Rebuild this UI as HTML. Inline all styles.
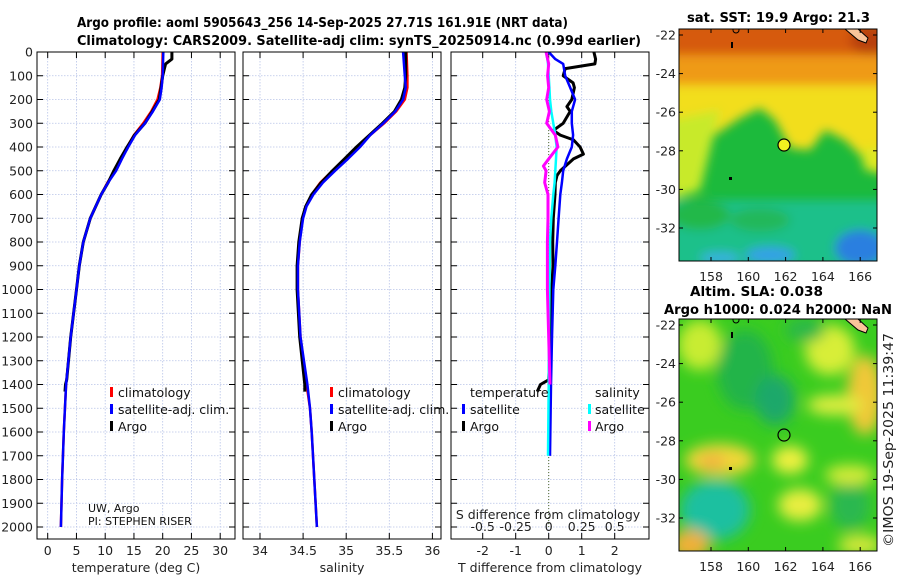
<!DOCTYPE html>
<html><head><meta charset="utf-8"><style>
body{margin:0;background:#fff;}
svg{display:block;font-family:"DejaVu Sans","Liberation Sans",sans-serif;}
</style></head><body>
<svg id="fig" width="900" height="580" viewBox="0 0 900 580" xmlns="http://www.w3.org/2000/svg">
<defs>
<clipPath id="cp1"><rect x="37" y="52" width="198" height="487"/></clipPath>
<clipPath id="cp2"><rect x="243" y="52" width="198" height="487"/></clipPath>
<clipPath id="cp3"><rect x="451" y="52" width="198" height="487"/></clipPath>
<clipPath id="cm1"><rect x="679" y="29" width="198" height="232"/></clipPath>
<clipPath id="cm2"><rect x="679" y="319" width="198" height="232"/></clipPath>
<filter id="bl" x="-20%" y="-20%" width="140%" height="140%"><feGaussianBlur stdDeviation="5"/></filter>
<filter id="bl2" x="-30%" y="-30%" width="160%" height="160%"><feGaussianBlur stdDeviation="7"/></filter>
</defs>
<text x="77" y="27" font-weight="bold" font-size="13" textLength="491" lengthAdjust="spacingAndGlyphs">Argo profile: aoml 5905643_256 14-Sep-2025 27.71S 161.91E (NRT data)</text>
<text x="77" y="45" font-weight="bold" font-size="13" textLength="564" lengthAdjust="spacingAndGlyphs">Climatology: CARS2009. Satellite-adj clim: synTS_20250914.nc (0.99d earlier)</text>

<g id="maps">
<g clip-path="url(#cm1)">
<rect x="679" y="29" width="198" height="232" fill="#1cba3c"/>
<g filter="url(#bl)">
<rect x="670" y="20" width="220" height="45" fill="#d65a10"/>
<rect x="670" y="55" width="220" height="35" fill="#ef9a12"/>
<polygon points="670,85 890,85 890,150 860,155 845,140 825,130 810,150 790,148 775,120 760,108 740,118 700,145 670,150" fill="#f2de1e"/>
<polygon points="670,120 720,110 700,190 670,200" fill="#c8ea2a"/>
<polygon points="860,150 890,145 890,175 865,170" fill="#dde824"/>
<rect x="670" y="200" width="220" height="70" fill="#1ec08a"/>
<ellipse cx="700" cy="215" rx="30" ry="15" fill="#22b84a"/>
<ellipse cx="760" cy="220" rx="30" ry="12" fill="#20b85a"/>
<ellipse cx="860" cy="248" rx="25" ry="18" fill="#2a7fe0"/>
<ellipse cx="770" cy="255" rx="25" ry="8" fill="#35a0e8"/>
<ellipse cx="720" cy="258" rx="20" ry="6" fill="#38b0e0"/>
<ellipse cx="870" cy="40" rx="20" ry="14" fill="#b84010"/>
</g>
<polygon points="845,29 858,29 868,38 866,43 858,40" fill="#f9c49a" stroke="#000" stroke-width="1"/>
<circle cx="736" cy="30" r="3" fill="none" stroke="#000"/>
<rect x="731" y="42" width="2" height="6" fill="#000"/>
<rect x="729" y="177" width="3" height="3" fill="#000"/>
<circle cx="784" cy="145" r="6" fill="#f2f020" stroke="#000" stroke-width="1.2"/>
</g>
<rect x="679" y="29" width="198" height="232" fill="none" stroke="#000" stroke-width="1"/>

<g clip-path="url(#cm2)">
<rect x="679" y="319" width="198" height="232" fill="#3acc20"/>
<g filter="url(#bl2)">
<ellipse cx="700" cy="345" rx="22" ry="25" fill="#c8ec30"/>
<ellipse cx="745" cy="370" rx="28" ry="40" fill="#22b44a"/>
<ellipse cx="775" cy="400" rx="20" ry="25" fill="#1ea86a"/>
<ellipse cx="830" cy="350" rx="25" ry="25" fill="#d8ee38"/>
<ellipse cx="805" cy="330" rx="20" ry="12" fill="#2ab84a"/>
<ellipse cx="865" cy="395" rx="18" ry="40" fill="#f0c838"/>
<ellipse cx="835" cy="405" rx="28" ry="10" fill="#e0ee40"/>
<ellipse cx="720" cy="460" rx="35" ry="16" fill="#f0d838"/>
<ellipse cx="712" cy="462" rx="14" ry="8" fill="#f0b040"/>
<ellipse cx="790" cy="460" rx="18" ry="14" fill="#eef040"/>
<ellipse cx="800" cy="505" rx="22" ry="16" fill="#e8ee40"/>
<ellipse cx="715" cy="510" rx="35" ry="30" fill="#1ec0a0"/>
<ellipse cx="690" cy="545" rx="20" ry="15" fill="#f0b038"/>
<ellipse cx="850" cy="505" rx="20" ry="25" fill="#2ab850"/>
<ellipse cx="850" cy="475" rx="25" ry="10" fill="#d4ec38"/>
<ellipse cx="860" cy="545" rx="22" ry="10" fill="#d8e83a"/>
</g>
<polygon points="845,319 858,319 868,328 866,333 858,330" fill="#f9c49a" stroke="#000" stroke-width="1"/>
<circle cx="736" cy="320" r="3" fill="none" stroke="#000"/>
<rect x="731" y="332" width="2" height="6" fill="#000"/>
<rect x="729" y="467" width="3" height="3" fill="#000"/>
<circle cx="784" cy="435" r="6" fill="none" stroke="#000" stroke-width="1.2"/>
</g>
<rect x="679" y="319" width="198" height="232" fill="none" stroke="#000" stroke-width="1"/>
<text x="687" y="22" font-weight="bold" font-size="13" textLength="183" lengthAdjust="spacingAndGlyphs">sat. SST: 19.9 Argo: 21.3</text>
<text x="690" y="296" font-weight="bold" font-size="13" textLength="133" lengthAdjust="spacingAndGlyphs">Altim. SLA: 0.038</text>
<text x="664" y="314" font-weight="bold" font-size="13" textLength="228" lengthAdjust="spacingAndGlyphs">Argo h1000: 0.024 h2000: NaN</text>
<text transform="translate(893,440) rotate(-90)" text-anchor="middle" font-size="13" fill="#222" textLength="214" lengthAdjust="spacingAndGlyphs">©IMOS 19-Sep-2025 11:39:47</text>
</g>
<g id="dyn"></g>
</svg>
<script>
// ---- profile data (depth in m) ----
const tDepth = [0,100,150,200,250,300,350,400,450,500,550,600,700,800,900,1000,1200,1400,1600,1800,2000];
const tClim = [20.0,19.9,19.6,19.1,18.0,16.6,15.0,13.8,12.7,11.7,10.4,9.3,7.4,6.2,5.5,5.0,4.0,3.2,2.8,2.5,2.3];
const tSat = [20.1,20.0,19.8,19.5,18.3,16.9,15.2,14.0,12.9,11.9,10.5,9.3,7.4,6.2,5.5,5.0,4.0,3.2,2.8,2.5,2.3];
const argoDepth = [0,30,50,70,100,200,250,300,350,400,450,500,550,600,700,800,900,1000,1200,1380,1400,1430];
const argoT = [21.6,21.6,20.5,20.3,20.0,19.4,18.2,16.9,15.1,13.8,12.6,11.5,10.5,9.3,7.4,6.2,5.5,5.0,4.0,3.3,3.1,3.0];
const argoSDepth = [0,100,150,200,250,300,350,400,450,500,550,600,650,700,800,900,1000,1200,1400,1430];
const argoS = [35.69,35.69,35.68,35.64,35.56,35.42,35.27,35.12,34.98,34.84,34.71,34.60,34.53,34.49,34.45,34.43,34.43,34.46,34.52,34.52];
const sDepth = [0,100,150,200,250,300,350,400,450,500,550,600,650,700,800,900,1000,1200,1400,1500,1600,1800,2000];
const sClim = [35.70,35.71,35.71,35.68,35.58,35.44,35.28,35.13,34.98,34.84,34.70,34.60,34.53,34.49,34.46,34.44,34.44,34.47,34.54,34.58,34.60,34.63,34.66];
const sSat = [35.66,35.68,35.69,35.66,35.57,35.43,35.28,35.16,35.02,34.87,34.73,34.62,34.54,34.50,34.46,34.44,34.44,34.47,34.55,34.58,34.60,34.63,34.66];
// ---- difference data ----
const dDepth = [0,30,50,70,100,130,150,200,230,250,300,330,350,370,400,430,450,500,520,550,600,700,800,900,1000,1200,1380,1400,1430];
const dArgoT = [1.37,1.42,1.4,0.5,0.44,0.74,0.78,0.7,0.55,0.65,0.44,0.14,0.35,0.75,0.95,1.05,0.75,0.35,0.25,0.2,0.19,0.14,0.12,0.13,0.09,0.05,0.0,-0.25,-0.35];
const sdDepth = [0,30,50,100,150,200,250,300,350,400,450,500,550,600,700,800,900,1000,1200,1400,1700];
const dSatT = [0,0.2,0.44,0.5,0.65,0.8,0.7,0.7,0.74,0.7,0.55,0.44,0.4,0.35,0.3,0.25,0.2,0.14,0.1,0.07,0.04];
const dSatS = [-0.02,-0.01,-0.005,0,0.005,0.01,0.02,0.035,0.05,0.06,0.055,0.05,0.045,0.035,0.02,0.01,0.008,0.005,0.002,0,-0.005];
const adDepth = [0,50,100,150,200,250,300,350,400,450,480,500,550,600,700,800,1000,1200,1400];
const dArgoS = [-0.02,0,-0.008,0,-0.015,0.005,-0.015,0.05,0.07,0,-0.04,-0.02,-0.03,-0.005,-0.005,-0.01,-0.01,0,0.01];
// ---- ticks ----
const depthTicks = [0,100,200,300,400,500,600,700,800,900,1000,1100,1200,1300,1400,1500,1600,1700,1800,1900,2000];
const tTicks = [0,5,10,15,20,25,30];
const sTicks = [34,34.5,35,35.5,36];
const sTickLabels = ["34","34.5","35","35.5","36"];
const dTTicks = [-2,-1,0,1,2];
const dSTicks = [-0.5,-0.25,0,0.25,0.5];
const dSTickLabels = ["-0.5","-0.25","0","0.25","0.5"];
const lonTicks = [158,160,162,164,166];
const latTicks = [-22,-24,-26,-28,-30,-32];

const NS="http://www.w3.org/2000/svg";
const dyn=document.getElementById('dyn');
function mk(tag,attrs,parent){const e=document.createElementNS(NS,tag);for(const k in attrs)e.setAttribute(k,attrs[k]);(parent||dyn).appendChild(e);return e;}
const TOP=52,BOT=539;
const yD=d=>52+0.2375*d;
const xT=t=>47.7+5.75*t;
const xS=s=>260+86.2*(s-34);
const xDT=v=>548.7+33*v;
const xDS=v=>548.7+132*v;
const FS=12.5;
const panels=[{l:37,r:235,xs:xT,ticks:tTicks,labels:tTicks.map(String),title:"temperature (deg C)",name:"temperature"},
 {l:243,r:441,xs:xS,ticks:sTicks,labels:sTickLabels,title:"salinity",name:"salinity"},
 {l:451,r:649,xs:xDT,ticks:dTTicks,labels:dTTicks.map(String),title:"T difference from climatology",name:"difference"}];
panels.forEach((p,i)=>{
  const g=mk('g',{});
  
  
  depthTicks.forEach(d=>{
    const y=yD(d);
    const gl=mk('line',{x1:p.l,x2:p.r,y1:y,y2:y,stroke:'#b8c4e8','stroke-width':0.8,'stroke-dasharray':'1.5,1.5'},g);
    
    
    mk('line',{x1:p.l,x2:p.l+6,y1:y,y2:y,stroke:'#000'},g);
    mk('line',{x1:p.r-6,x2:p.r,y1:y,y2:y,stroke:'#000'},g);
    if(i===0){const t=mk('text',{x:p.l-4,y:y+4.5,'text-anchor':'end','font-size':FS,fill:'#222'},g);t.textContent=d;
      
      }
  });
  p.ticks.forEach((v,k)=>{
    const x=p.xs(v);
    const gl=mk('line',{x1:x,x2:x,y1:TOP,y2:BOT,stroke:'#b8c4e8','stroke-width':0.8,'stroke-dasharray':'1.5,1.5'},g);
    
    
    mk('line',{x1:x,x2:x,y1:BOT-6,y2:BOT,stroke:'#000'},g);
    mk('line',{x1:x,x2:x,y1:TOP,y2:TOP+6,stroke:'#000'},g);
    const t=mk('text',{x:x,y:555,'text-anchor':'middle','font-size':FS,fill:'#222'},g);t.textContent=p.labels[k];
    
    
  });
  const at=mk('text',{x:(p.l+p.r)/2,y:572,'text-anchor':'middle','font-size':FS,fill:'#222'},g);at.textContent=p.title;
  
  
});
function line(dep,vals,xs,color,w,clip,name){
  const pts=vals.map((v,k)=>xs(v).toFixed(1)+','+yD(dep[k]).toFixed(1)).join(' ');
  const e=mk('polyline',{points:pts,fill:'none',stroke:color,'stroke-width':w,'stroke-linejoin':'round','clip-path':'url(#'+clip+')'});
  
  
}
line(tDepth,tClim,xT,'#ff0000',2.5,'cp1','temperature-climatology-line');
line(argoDepth,argoT,xT,'#000',3,'cp1','temperature-argo-line');
line(tDepth,tSat,xT,'#0000ff',2.5,'cp1','temperature-satellite-line');
line(sDepth,sClim,xS,'#ff0000',2.5,'cp2','salinity-climatology-line');
line(argoSDepth,argoS,xS,'#000',3,'cp2','salinity-argo-line');
line(sDepth,sSat,xS,'#0000ff',2.5,'cp2','salinity-satellite-line');
const zl=mk('line',{x1:xDT(0),x2:xDT(0),y1:yD(0),y2:yD(2000),stroke:'#556b2f','stroke-width':1,'stroke-dasharray':'1,2'});


line(dDepth,dArgoT,xDT,'#000',3,'cp3','temperature-argo-difference-line');
line(sdDepth,dSatT,xDT,'#0000ff',2.5,'cp3','temperature-satellite-difference-line');
line(sdDepth,dSatS,xDS,'#00ffff',2.5,'cp3','salinity-satellite-difference-line');
line(adDepth,dArgoS,xDS,'#ff00ff',3,'cp3','salinity-argo-difference-line');
dSTicks.forEach((v,k)=>{const t=mk('text',{x:xDS(v),y:531,'text-anchor':'middle','font-size':FS,fill:'#222'});t.textContent=dSTickLabels[k];
 
 });
const st=mk('text',{x:548,y:519,'text-anchor':'middle','font-size':FS,fill:'#222'});st.textContent='S difference from climatology';


panels.forEach(p=>{const r=mk('rect',{x:p.l,y:TOP,width:p.r-p.l,height:BOT-TOP,fill:'none',stroke:'#000','stroke-width':1});
 
 });
function leg(x,y,color,label,tx){
  mk('rect',{x:x,y:y-9,width:3,height:10,fill:color});
  const t=mk('text',{x:tx,y:y+1,'font-size':FS,fill:'#111'});t.textContent=label;
  
  
}
leg(110,396,'#ff0000','climatology',118);leg(110,413,'#0000ff','satellite-adj. clim.',118);leg(110,430,'#000','Argo',118);
leg(330,396,'#ff0000','climatology',338);leg(330,413,'#0000ff','satellite-adj. clim.',338);leg(330,430,'#000','Argo',338);
(function(){const t=mk('text',{x:470,y:397,'font-size':FS,fill:'#111'});t.textContent='temperature';
 
 
 const s=mk('text',{x:595,y:397,'font-size':FS,fill:'#111'});s.textContent='salinity';
 
 })();
leg(462,413,'#0000ff','satellite',470);leg(462,430,'#000','Argo',470);
leg(588,413,'#00ffff','satellite',595);leg(588,430,'#ff00ff','Argo',595);
(function(){const a=mk('text',{x:88,y:512,'font-size':11,fill:'#111'});a.textContent='UW, Argo';
 
 
 const b=mk('text',{x:88,y:525,'font-size':11,fill:'#111'});b.textContent='PI: STEPHEN RISER';
 
 })();
[{top:29,bot:261,lat22:35,ly:281},{top:319,bot:551,lat22:325,ly:571}].forEach(m=>{
  lonTicks.forEach(lo=>{const x=711+(lo-158)*18.65;
    mk('line',{x1:x,x2:x,y1:m.bot-4,y2:m.bot,stroke:'#000'});mk('line',{x1:x,x2:x,y1:m.top,y2:m.top+4,stroke:'#000'});
    const t=mk('text',{x:x,y:m.ly,'text-anchor':'middle','font-size':FS,fill:'#222'});t.textContent=lo;
    
    });
  latTicks.forEach(la=>{const y=m.lat22+(-22-la)*19.3;
    mk('line',{x1:679,x2:683,y1:y,y2:y,stroke:'#000'});mk('line',{x1:873,x2:877,y1:y,y2:y,stroke:'#000'});
    const t=mk('text',{x:676,y:y+4.5,'text-anchor':'end','font-size':FS,fill:'#222'});t.textContent=la;
    
    });
});
</script>
</body></html>
